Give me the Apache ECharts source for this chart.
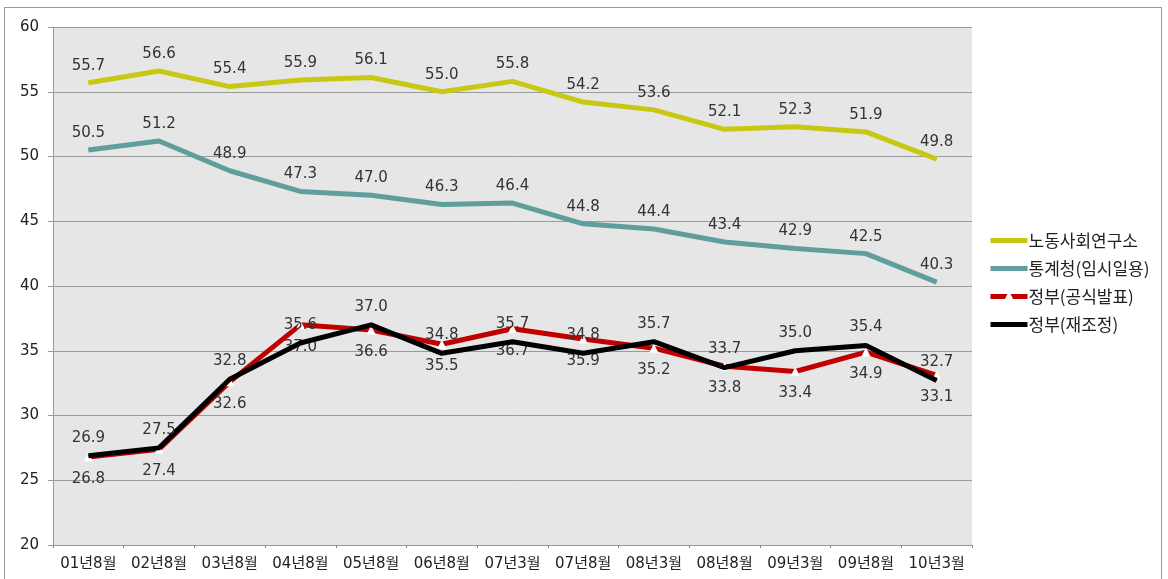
<!DOCTYPE html>
<html><head><meta charset="utf-8">
<script src="https://cdn.jsdelivr.net/npm/echarts@6/dist/echarts.min.js"></script>
<style>
html,body{margin:0;padding:0;background:#fff;}
#frame{position:absolute;left:4px;top:7px;width:1158px;height:580px;border:1px solid #9a9a9a;box-sizing:border-box;}
#c{position:absolute;left:0;top:0;width:1168px;height:579px;}
</style></head>
<body>
<div id="frame"></div>
<div id="c"></div>
<script>
const categories = ['01년8월','02년8월','03년8월','04년8월','05년8월','06년8월','07년3월','07년8월','08년3월','08년8월','09년3월','09년8월','10년3월'];
const seriesNames = ['노동사회연구소','통계청(임시일용)','정부(공식발표)','정부(재조정)'];
const laborInst = [55.7,56.6,55.4,55.9,56.1,55.0,55.8,54.2,53.6,52.1,52.3,51.9,49.8];
const statKorea = [50.5,51.2,48.9,47.3,47.0,46.3,46.4,44.8,44.4,43.4,42.9,42.5,40.3];
const govOfficial = [26.8,27.4,32.6,37.0,36.6,35.5,36.7,35.9,35.2,33.8,33.4,34.9,33.1];
const govAdjusted = [26.9,27.5,32.8,35.6,37.0,34.8,35.7,34.8,35.7,33.7,35.0,35.4,32.7];
const yTicks = {min:20, max:60, interval:5};

const FONT = 'DejaVu Sans, "Noto Sans CJK KR", sans-serif';
const lbl = (pos, dist) => ({show:true, position:pos, distance:dist, color:'#333', fontSize:15, fontFamily:FONT, formatter:p=>p.value.toFixed(1)});
const colors = ['#c8c814','#5f9e9c','#c00000','#000000'];

const chart = echarts.init(document.getElementById('c'));
chart.setOption({
  animation:false,
  backgroundColor:'transparent',
  grid:{left:53, right:196, top:27, bottom:34, show:true, backgroundColor:'#e6e6e6', borderWidth:0},
  legend:{
    orient:'vertical', left:983, top:227, itemWidth:37, itemHeight:14, itemGap:11,
    textStyle:{fontSize:17, color:'#222', fontFamily:'"Noto Sans CJK KR", sans-serif', padding:[0,0,0,-4]},
    data:[
      {name:seriesNames[0], itemStyle:{opacity:0}, lineStyle:{width:5, color:colors[0]}},
      {name:seriesNames[1], itemStyle:{opacity:0}, lineStyle:{width:5, color:colors[1]}},
      {name:seriesNames[2], itemStyle:{color:'#fff'}, lineStyle:{width:5, color:colors[2]}},
      {name:seriesNames[3], itemStyle:{opacity:0}, lineStyle:{width:5, color:colors[3]}}
    ]
  },
  xAxis:{
    type:'category', data:categories, boundaryGap:true,
    axisLine:{lineStyle:{color:'#999'}},
    axisTick:{show:true, length:3, lineStyle:{color:'#888'}},
    axisLabel:{color:'#222', fontSize:15, fontFamily:FONT, margin:12, interval:0}
  },
  yAxis:{
    type:'value', min:yTicks.min, max:yTicks.max, interval:yTicks.interval,
    axisLine:{show:true, lineStyle:{color:'#999'}},
    axisTick:{show:true, length:5, lineStyle:{color:'#999'}},
    splitLine:{lineStyle:{color:'#9a9a9a', width:1}},
    axisLabel:{color:'#222', fontSize:15, fontFamily:FONT, margin:14}
  },
  series:[
    {name:seriesNames[0], type:'line', data:laborInst, symbol:'circle', symbolSize:1, showSymbol:true, lineStyle:{color:colors[0], width:5}, itemStyle:{color:colors[0]}, label:lbl('top',9), z:2},
    {name:seriesNames[1], type:'line', data:statKorea, symbol:'circle', symbolSize:1, showSymbol:true, lineStyle:{color:colors[1], width:5}, itemStyle:{color:colors[1]}, label:lbl('top',9), z:2},
    {name:seriesNames[2], type:'line', data:govOfficial, symbol:'triangle', symbolSize:9, showSymbol:true,
      itemStyle:{color:'#ffffff', borderWidth:0}, lineStyle:{color:colors[2], width:5}, label:lbl('bottom',10), z:3},
    {name:seriesNames[3], type:'line', data:govAdjusted, symbol:'circle', symbolSize:1, showSymbol:true, lineStyle:{color:colors[3], width:5}, itemStyle:{color:colors[3]}, label:lbl('top',10), z:4}
  ]
});
</script>
</body></html>
